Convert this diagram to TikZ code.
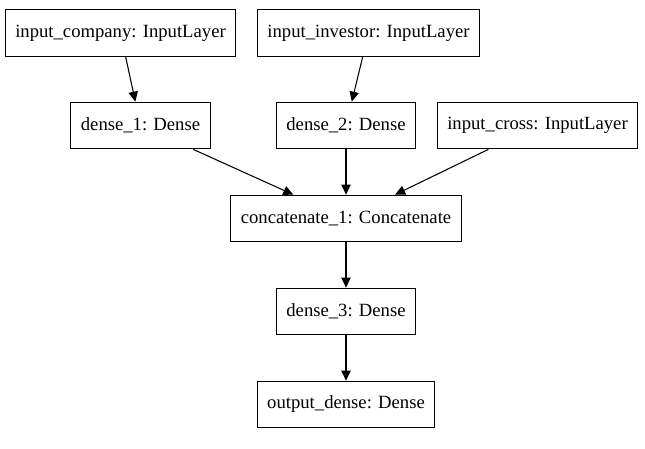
\documentclass[tikz,border=0pt]{standalone}
\usepackage{fontspec}
\setmainfont{Liberation Serif}
\usetikzlibrary{arrows, arrows.meta}
\tikzset{layer/.style = {shape = rectangle, draw, line width = 0.8pt, font = \rmfamily\fontsize{14}{16}\selectfont, inner xsep = 7.5pt, minimum height = 35pt}}
\tikzset{edge/.style = {line width = 0.8pt, -{Triangle[length = 7.5pt, width = 7pt]}}}
\begin{document}
\begin{tikzpicture}[x = 0.75pt, y = -0.75pt]
				\useasboundingbox (0, 0) rectangle (645, 449);
				\node[layer] (company) at (120.5, 33) {input\_company: InputLayer};
				\node[layer] (investor) at (368.5, 33) {input\_investor: InputLayer};
				\node[layer] (dense1) at (140.5, 125.5) {dense\_1: Dense};
				\node[layer] (dense2) at (346, 125.5) {dense\_2: Dense};
				\node[layer] (cross) at (537.5, 125.5) {input\_cross: InputLayer};
				\node[layer] (concat) at (346, 218.5) {concatenate\_1: Concatenate};
				\node[layer] (dense3) at (346, 311.5) {dense\_3: Dense};
				\node[layer] (output) at (346, 404.5) {output\_dense: Dense};
	
				\draw[edge] (company) to (dense1);
				\draw[edge] (investor) to (dense2);
				\draw[edge] (dense1) to (concat);
				\draw[edge] (dense2) to (concat);
				\draw[edge] (cross) to (concat);
				\draw[edge] (concat) to (dense3);
				\draw[edge] (dense3) to (output);
			\end{tikzpicture}
\end{document}
